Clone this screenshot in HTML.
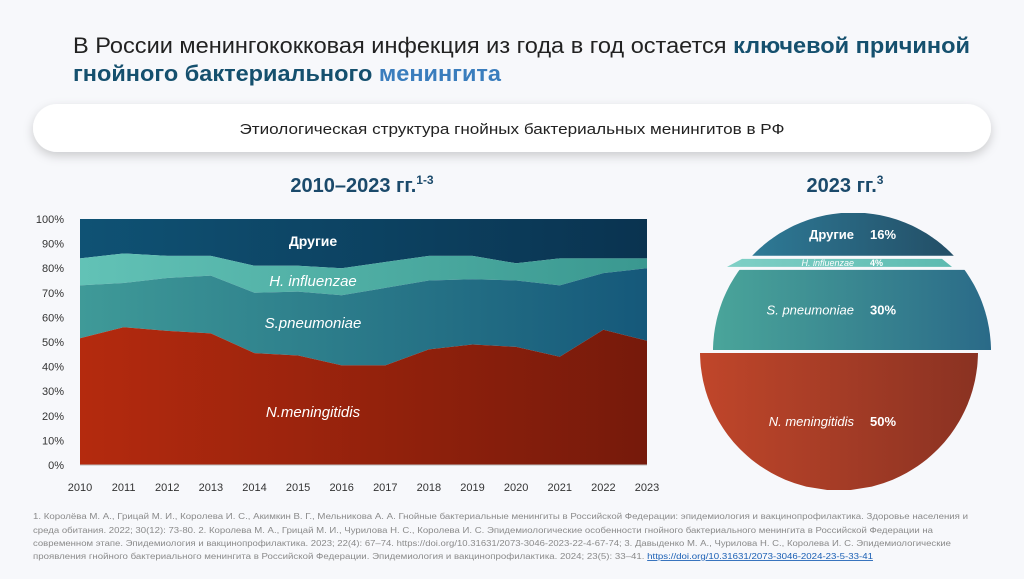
<!DOCTYPE html>
<html><head><meta charset="utf-8"><style>
body{margin:0;width:1024px;height:574px;background:#f7f8fb;overflow:hidden;font-family:"Liberation Sans",sans-serif}
</style></head><body>
<svg id="s" width="1024" height="574" xmlns="http://www.w3.org/2000/svg" font-family="Liberation Sans, sans-serif">
<defs>
<linearGradient id="gN" x1="0" x2="1"><stop offset="0" stop-color="#b42a0e"/><stop offset="1" stop-color="#761a0b"/></linearGradient>
<linearGradient id="gS" x1="0" x2="1"><stop offset="0" stop-color="#3f9a98"/><stop offset="1" stop-color="#15587a"/></linearGradient>
<linearGradient id="gH" x1="0" x2="1"><stop offset="0" stop-color="#62c2b6"/><stop offset="1" stop-color="#3a9890"/></linearGradient>
<linearGradient id="gO" x1="0" x2="1"><stop offset="0" stop-color="#0f5274"/><stop offset="1" stop-color="#0a3350"/></linearGradient>
<linearGradient id="pN" x1="0" x2="1"><stop offset="0" stop-color="#c0462a"/><stop offset="1" stop-color="#8a3222"/></linearGradient>
<linearGradient id="pS" x1="0" x2="1"><stop offset="0" stop-color="#4aa59a"/><stop offset="1" stop-color="#2a6a88"/></linearGradient>
<linearGradient id="pH" x1="0" x2="1"><stop offset="0" stop-color="#7fd0c6"/><stop offset="1" stop-color="#5cbab0"/></linearGradient>
<linearGradient id="pO" x1="0" x2="1"><stop offset="0" stop-color="#2e7a96"/><stop offset="1" stop-color="#234e66"/></linearGradient>
<filter id="sh" x="-5%" y="-30%" width="110%" height="170%"><feDropShadow dx="0" dy="4" stdDeviation="5" flood-color="#000" flood-opacity="0.18"/></filter>
</defs>
<text x="73" y="53" font-size="22" fill="#222" textLength="897" lengthAdjust="spacingAndGlyphs">В России менингококковая инфекция из года в год остается <tspan fill="#15506e" font-weight="bold">ключевой причиной</tspan></text>
<text x="73" y="81" font-size="22" font-weight="bold" fill="#15506e" textLength="428" lengthAdjust="spacingAndGlyphs">гнойного бактериального <tspan fill="#3a7dbd">менингита</tspan></text>
<rect x="33" y="104" width="958" height="48" rx="24" fill="#fff" filter="url(#sh)"/>
<text x="512" y="134" font-size="15" fill="#222" text-anchor="middle" textLength="545" lengthAdjust="spacingAndGlyphs">Этиологическая структура гнойных бактериальных менингитов в РФ</text>
<text x="362" y="192" font-size="20" font-weight="bold" fill="#1b4a6b" text-anchor="middle">2010–2023 гг.<tspan font-size="12" dy="-8">1-3</tspan></text>
<text x="845" y="192" font-size="20" font-weight="bold" fill="#1b4a6b" text-anchor="middle">2023 гг.<tspan font-size="12" dy="-8">3</tspan></text>
<g id="area"></g>
<g id="pie"></g>
<g font-size="8.6" fill="#8a8a8a">
<text x="33" y="519" textLength="935" lengthAdjust="spacingAndGlyphs">1. Королёва М. А., Грицай М. И., Королева И. С., Акимкин В. Г., Мельникова А. А. Гнойные бактериальные менингиты в Российской Федерации: эпидемиология и вакцинопрофилактика. Здоровье населения и</text>
<text x="33" y="533" textLength="900" lengthAdjust="spacingAndGlyphs">среда обитания. 2022; 30(12): 73-80. 2. Королева М. А., Грицай М. И., Чурилова Н. С., Королева И. С. Эпидемиологические особенности гнойного бактериального менингита в Российской Федерации на</text>
<text x="33" y="546" textLength="918" lengthAdjust="spacingAndGlyphs">современном этапе. Эпидемиология и вакцинопрофилактика. 2023; 22(4): 67–74. https://doi.org/10.31631/2073-3046-2023-22-4-67-74; 3. Давыденко М. А., Чурилова Н. С., Королева И. С. Эпидемиологические</text>
<text x="33" y="559" textLength="840" lengthAdjust="spacingAndGlyphs">проявления гнойного бактериального менингита в Российской Федерации. Эпидемиология и вакцинопрофилактика. 2024; 23(5): 33–41. <tspan fill="#1a5fb4" text-decoration="underline">https://doi.org/10.31631/2073-3046-2024-23-5-33-41</tspan></text>
</g>
</svg>
<script>
const years=[2010,2011,2012,2013,2014,2015,2016,2017,2018,2019,2020,2021,2022,2023];
const nMen=[51.5,56,54.5,53.5,45.5,44.5,40.5,40.5,47,49,48,44,55,50.5];
const sPneu=[21.5,18,21.5,23.5,24.5,26,28.5,31.5,28,26.5,27,29,23,29.5];
const hInf=[11,12,9,8,11,10.5,11,10.5,10,9.5,7,11,6,4];
const yTicks=[0,10,20,30,40,50,60,70,80,90,100];
const pieLabels=["Другие","H. influenzae","S. pneumoniae","N. meningitidis"];
const pieValues=[16,4,30,50];
const NS="http://www.w3.org/2000/svg";
function mk(t,a,p){const e=document.createElementNS(NS,t);for(const k in a)e.setAttribute(k,a[k]);p.appendChild(e);return e;}
const X0=80,X1=647,Y0=465,Y1=219;
const xS=i=>X0+(X1-X0)*i/(years.length-1);
const yS=v=>Y0-(Y0-Y1)*v/100;
const area=document.getElementById('area');
const c1=nMen.map(v=>v),c2=nMen.map((v,i)=>v+sPneu[i]),c3=c2.map((v,i)=>v+hInf[i]),c4=years.map(()=>100);
const zero=years.map(()=>0);
function band(lo,hi,fill,name){
  let d='M'+years.map((y,i)=>xS(i)+','+yS(hi[i])).join('L');
  for(let i=years.length-1;i>=0;i--)d+='L'+xS(i)+','+yS(lo[i]);
  const p=mk('path',{d:d+'Z',fill:fill},area);
  
  
}
band(c3,c4,'url(#gO)','area-others');
band(c2,c3,'url(#gH)','area-h-influenzae');
band(c1,c2,'url(#gS)','area-s-pneumoniae');
band(zero,c1,'url(#gN)','area-n-meningitidis');
mk('line',{x1:X0,x2:X1,y1:Y0,y2:Y0,stroke:'#bbb'},area);
yTicks.forEach(t=>{const e=mk('text',{x:64,y:yS(t)+4,'font-size':11,fill:'#333','text-anchor':'end'},area);e.textContent=t+'%';

});
years.forEach((y,i)=>{const e=mk('text',{x:xS(i),y:491,'font-size':11,fill:'#333','text-anchor':'middle'},area);e.textContent=y;

});
[['Другие',313,246,'bold','normal',14],['H. influenzae',313,286,'normal','italic',15],['S.pneumoniae',313,328,'normal','italic',15],['N.meningitidis',313,417,'normal','italic',15]].forEach(a=>{
const e=mk('text',{x:a[1],y:a[2],'font-size':a[5],fill:'#fff','font-weight':a[3],'font-style':a[4],'text-anchor':'middle'},area);e.textContent=a[0];

});
// pie
const pie=document.getElementById('pie');
const PT=213,PB=490,R=139,CY=351.5,gap=1.5;
const cxs=[853,852,852,839];
let acc=0;
pieValues.forEach((v,i)=>{
  const ya=PT+(PB-PT)*acc/100+(i?gap:0), yb=PT+(PB-PT)*(acc+v)/100-(i<3?gap:0);
  acc+=v;
  let d;
  if(i===1){
    d=`M${cxs[i]-125},${yb}L${cxs[i]-110},${ya}L${cxs[i]+90},${ya}L${cxs[i]+100},${yb}Z`;
  }else{
    const pts=[];
    for(let k=0;k<=40;k++){const y=ya+(yb-ya)*k/40;const dy=y-CY;const w=Math.sqrt(Math.max(0,R*R-dy*dy));pts.push([cxs[i]+w,y]);}
    for(let k=40;k>=0;k--){const y=ya+(yb-ya)*k/40;const dy=y-CY;const w=Math.sqrt(Math.max(0,R*R-dy*dy));pts.push([cxs[i]-w,y]);}
    d='M'+pts.map(p=>p[0].toFixed(1)+','+p[1].toFixed(1)).join('L')+'Z';
  }
  const p=mk('path',{d:d,fill:['url(#pO)','url(#pH)','url(#pS)','url(#pN)'][i]},pie);
  
  
  const my=(ya+yb)/2;
  const fs=i===1?9:13;
  const l=mk('text',{x:854,y:my+fs*0.35,'font-size':fs,fill:'#fff','text-anchor':'end','font-style':i===0?'normal':'italic','font-weight':i===0?'bold':'normal'},pie);
  l.textContent=pieLabels[i];
  
  
  const t=mk('text',{x:870,y:my+fs*0.35,'font-size':fs,fill:'#fff','font-weight':'bold'},pie);
  t.textContent=v+'%';
  
  
});
</script>
</body></html>
